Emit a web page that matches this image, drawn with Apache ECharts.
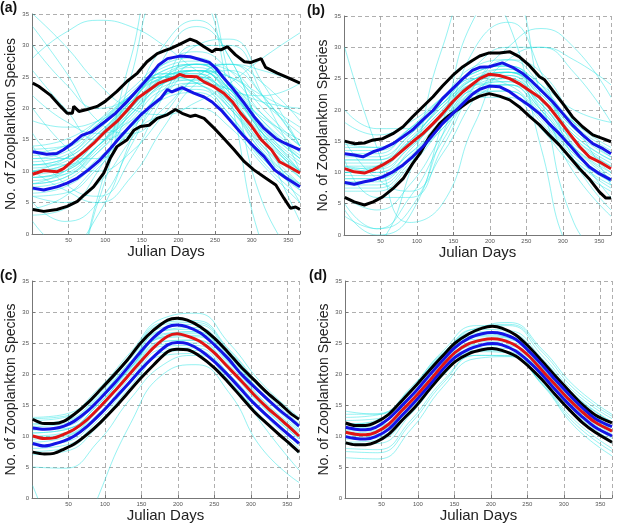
<!DOCTYPE html>
<html>
<head>
<meta charset="utf-8">
<script src="https://cdn.jsdelivr.net/npm/echarts@6/dist/echarts.min.js"></script>
<style>
  html, body { margin: 0; padding: 0; background: #fff; }
  #chart { width: 617px; height: 524px; }
</style>
</head>
<body>
<div id="chart"></div>
<script>
// days where the thin cyan curves were read
const cyanDays = [1, 45, 90, 135, 180, 225, 270, 315, 366]

// panel (a) - thick lines as [day, value]
const aUpperBlack = [[1, 24.0], [9, 23.5], [25, 22.1], [39, 20.3], [48, 19.2], [55, 19.2], [57, 20.3], [64, 19.5], [75, 19.8], [89, 20.3], [100, 21.1], [116, 22.7], [130, 24.3], [144, 25.6], [157, 27.4], [171, 28.7], [182, 29.2], [189, 29.5], [200, 30.1], [216, 31], [225, 30.6], [235, 29.8], [246, 29], [251, 29.4], [258, 29.3], [267, 29.8], [278, 28.5], [290, 27.4], [299, 27.3], [313, 27.9], [319, 26.5], [335, 25.6], [351, 24.8], [366, 24]]
const aUpperBlue = [[1, 13.1], [20, 12.7], [34, 12.8], [43, 13.4], [55, 14.4], [68, 15.7], [82, 16.3], [100, 17.9], [114, 19.2], [130, 21.1], [144, 22.9], [160, 25], [173, 26.9], [185, 27.9], [202, 28.3], [216, 28.2], [228, 27.8], [242, 27.3], [251, 26.4], [262, 24.8], [276, 22.9], [290, 20.8], [303, 18.7], [317, 16.8], [333, 15.2], [346, 14.4], [366, 13.4]]
const aRed = [[1, 9.5], [16, 10.1], [34, 9.9], [43, 10.4], [57, 11.8], [71, 13.1], [84, 14.4], [100, 16.3], [116, 17.9], [130, 19.7], [144, 21.6], [160, 22.9], [173, 24], [185, 24.5], [195, 24.9], [202, 25.4], [209, 25.1], [225, 25], [235, 24.2], [249, 23.4], [262, 22.4], [274, 21], [285, 19.2], [299, 17.3], [313, 15], [327, 13.4], [338, 11.5], [351, 10.7], [366, 9.7]]
const aLowerBlue = [[1, 7.3], [16, 7.0], [34, 7.5], [48, 8.1], [62, 8.9], [77, 10.2], [93, 11.8], [107, 13.6], [121, 15.5], [135, 17.3], [148, 18.9], [162, 20.3], [176, 21.6], [185, 23], [191, 22.6], [205, 23.3], [221, 22.4], [235, 21.8], [246, 21], [260, 19.5], [274, 17.6], [288, 15.7], [303, 13.9], [317, 12.3], [331, 10.2], [347, 8.9], [366, 7.5]]
const aLowerBlack = [[1, 3.9], [16, 3.6], [34, 3.9], [48, 4.4], [62, 5.2], [71, 6.2], [84, 7.5], [98, 9.7], [107, 12.1], [116, 13.9], [130, 15], [139, 16.5], [148, 17.1], [160, 17.3], [171, 18.4], [185, 19], [196, 19.8], [205, 19.2], [216, 18.7], [223, 18.9], [235, 18.4], [249, 16.8], [262, 15.2], [276, 13.4], [290, 11.5], [303, 10.2], [319, 8.9], [333, 7.8], [344, 5.7], [353, 4.1], [360, 4.3], [366, 3.9]]
const aCyan = [
  [9, 10, 14, 20, 25, 26, 22, 15, 9],
  [11, 12, 16, 21, 25, 25, 21, 16, 11],
  [8, 9, 13, 18, 23, 24, 21, 14, 8],
  [12, 13, 17, 22, 26, 27, 23, 17, 12],
  [10, 11, 15, 21, 26, 27, 23, 16, 10],
  [7, 8, 12, 17, 22, 23, 19, 12, 7],
  [13, 14, 18, 23, 27, 28, 24, 18, 13],
  [9, 10, 14, 19, 24, 26, 23, 17, 10],
  [10, 12, 17, 22, 25, 24, 20, 14, 9],
  [11, 11, 14, 19, 24, 26, 24, 18, 12],
  [8, 10, 15, 21, 25, 24, 19, 12, 8],
  [12, 12, 15, 20, 25, 27, 25, 19, 13],
  [9.5, 10.5, 15, 20.5, 24.5, 25.5, 21.5, 15.5, 9.5],
  [10.5, 11.5, 15.5, 21, 25.5, 25.5, 21, 15, 10],
  [8.5, 9.5, 14, 19.5, 24, 25, 22, 16, 9],
  [11.5, 12.5, 16.5, 21.5, 25, 26, 22.5, 16.5, 11.5],
  [7.5, 8.5, 13, 18.5, 23.5, 24.5, 20.5, 13.5, 7.5],
  [12.5, 13.5, 17.5, 22.5, 26.5, 27.5, 23.5, 17.5, 12.5],
  [10, 11, 15.5, 21.5, 25.5, 25, 20.5, 14.5, 9.5],
  [9, 9.5, 13.5, 19, 24.5, 26, 22.5, 16.5, 10],
  [11, 12, 16, 20.5, 24, 25, 22, 17, 12],
  [6.5, 7.5, 11.5, 17, 22, 23.5, 20, 13, 7],
  [13.5, 14, 17.5, 22, 25.5, 27, 24, 19, 14],
  [8, 9, 14, 20, 24.5, 24.5, 20, 13, 8],
  [10, 10.5, 14, 19.5, 25, 26.5, 23, 16, 10],
  [14, 15, 18, 22, 25, 26, 23, 18.5, 15],
  [6, 6.5, 10.5, 16.5, 21.5, 22.5, 18.5, 11.5, 6],
  [30, 24, 20, 22, 27, 29, 26, 20, 14],
  [33, 26, 18, 16, 20, 25, 27, 26, 24],
  [26, 20, 15, 17, 22, 26, 25, 21, 17],
  [20, 14, 10, 13, 19, 25, 27, 24, 18],
  [5, 2, 5, 14, 24, 30, 30, 22, 10],
  [2, -2, 3, 15, 28, 33, 28, 15, 2],
  [16, 12, 12, 17, 23, 27, 26, 21, 16],
  [3, 4, 10, 20, 30, 34, 28, 16, 5],
  [-3, -5, 5, 25, 38, 38, 25, 5, -5],
  [22, 18, 16, 18, 22, 24, 23, 21, 20],
  [35, 30, 24, 20, 19, 21, 24, 28, 32],
  [6, 5, 8, 15, 22, 27, 27, 22, 14],
  [14, 8, 6, 12, 22, 30, 31, 24, 14],
  [18, 17, 18, 21, 24, 26, 25, 22, 19],
  [-10, -8, 6, 28, 42, 40, 22, -2, -12],
  [28, 32, 34, 33, 30, 26, 23, 22, 24],
  [4, 6, 11, 16, 19, 20, 17, 11, 5],
  [10, 7, 5, 9, 17, 24, 26, 22, 14]
]

// panel (b)
const bUpperBlack = [[1, 15], [14, 14.6], [28, 14.7], [40, 15.2], [53, 15.4], [67, 16.2], [81, 17.3], [94, 18.9], [108, 20.5], [122, 22.1], [135, 23.8], [149, 25.5], [163, 26.9], [176, 27.9], [186, 28.6], [199, 29.1], [213, 29.1], [227, 29.3], [240, 28.5], [254, 27.1], [268, 25.3], [275, 24.8], [286, 23.1], [300, 21], [313, 18.9], [327, 17.3], [341, 16], [355, 15.4], [366, 14.9]]
const bUpperBlue = [[1, 13], [14, 12.8], [26, 12.5], [40, 13.3], [53, 13.8], [67, 14.6], [81, 15.7], [94, 16.8], [108, 18.4], [122, 19.9], [135, 21.8], [149, 23.4], [163, 25], [176, 26.3], [186, 26.8], [199, 26.9], [217, 27.5], [231, 26.8], [245, 25.8], [258, 24.5], [272, 22.9], [286, 21.3], [300, 19.4], [313, 17.6], [327, 16], [341, 14.6], [355, 13.8], [366, 13]]
const bRed = [[1, 10.6], [14, 10.1], [28, 9.9], [40, 10.4], [53, 11.2], [67, 12.2], [81, 13.6], [94, 14.9], [108, 16.2], [122, 17.8], [135, 19.4], [149, 21.3], [163, 22.9], [176, 24.1], [186, 25], [199, 25.7], [213, 25.5], [227, 25], [240, 24.2], [254, 23.1], [268, 22], [281, 20.5], [295, 18.4], [309, 16.2], [323, 14.1], [336, 12.5], [350, 11.7], [366, 10.6]]
const bLowerBlue = [[1, 8.4], [14, 8.1], [28, 8.5], [40, 8.8], [53, 9.3], [67, 10.1], [81, 11.2], [94, 12.5], [108, 14.1], [122, 16], [135, 17.8], [149, 19.4], [163, 21], [176, 22.5], [186, 23.3], [199, 23.8], [213, 23.7], [227, 22.9], [240, 21.8], [254, 20.7], [268, 19.4], [281, 17.8], [295, 16.2], [309, 14.4], [323, 12.5], [336, 10.9], [350, 9.8], [366, 8.8]]
const bLowerBlack = [[1, 6], [14, 5.3], [28, 4.8], [40, 5.3], [53, 6.1], [67, 7.4], [81, 9], [94, 11.4], [104, 13], [117, 15.7], [131, 17.8], [144, 19.1], [158, 20.2], [172, 21.4], [186, 22.2], [199, 22.6], [213, 22.2], [227, 21.6], [240, 20.5], [254, 19], [268, 17.6], [281, 16], [295, 14.4], [309, 12.5], [323, 10.6], [336, 9], [350, 6.9], [359, 5.9], [366, 5.9]]
const bCyan = [
  [10, 10, 14, 19, 24, 25, 21, 15, 10],
  [12, 12, 16, 21, 25, 26, 22, 16, 12],
  [9, 9, 12, 17, 22, 24, 21, 14, 9],
  [13, 13, 17, 22, 26, 27, 23, 17, 13],
  [11, 11, 15, 20, 25, 26, 21, 15, 11],
  [8, 8, 12, 18, 23, 23, 18, 12, 8],
  [14, 14, 17, 22, 27, 28, 24, 18, 14],
  [10, 11, 15, 21, 25, 24, 19, 13, 9],
  [11, 10, 13, 18, 24, 26, 23, 16, 12],
  [7, 7, 11, 17, 22, 22, 17, 11, 7],
  [10.5, 11, 14.5, 19.5, 24.5, 25.5, 20.5, 14.5, 10.5],
  [11.5, 11.5, 15.5, 20.5, 25, 25.5, 21.5, 15.5, 11.5],
  [9.5, 9.5, 13, 18.5, 23.5, 24.5, 20, 14, 9.5],
  [12.5, 12.5, 16, 21.5, 25.5, 26.5, 22.5, 16.5, 12.5],
  [8.5, 8.5, 12.5, 18, 23, 24, 19.5, 13, 8.5],
  [13.5, 13.5, 16.5, 21.5, 26, 27, 23, 17.5, 13.5],
  [10, 10.5, 15, 20.5, 24, 24.5, 20, 14, 10],
  [11, 10.5, 14, 19, 24.5, 26, 22, 15.5, 11],
  [9, 9, 13.5, 19.5, 24, 24, 19, 12.5, 8.5],
  [12, 12, 15, 20, 24.5, 26, 22.5, 17, 12.5],
  [7.5, 7.5, 11.5, 17.5, 22.5, 23, 18.5, 12, 7.5],
  [14.5, 14, 17, 21, 25, 26.5, 23.5, 18, 15],
  [30, 14, 2, 5, 18, 26, 24, 14, 6],
  [5, 1, 4, 16, 30, 34, 26, 12, 4],
  [4, 0, 3, 18, 35, 38, 22, 2, -5],
  [18, 16, 18, 22, 26, 27, 24, 20, 18],
  [6, 4, 8, 16, 24, 28, 26, 18, 8],
  [15, 9, 7, 13, 22, 28, 30, 26, 18],
  [-4, -2, 10, 30, 40, 34, 14, -4, -8],
  [20, 17, 17, 21, 27, 30, 30, 28, 24],
  [12, 6, 6, 14, 24, 30, 33, 30, 22],
  [3, 1, 6, 15, 23, 25, 20, 10, 3]
]

// panel (c) - thick lines share cDays
const cDays = [1, 17, 30, 44, 58, 76, 94, 113, 131, 149, 167, 186, 199, 213, 231, 250, 268, 286, 304, 323, 341, 354, 366]
const cUpperBlack = [12.7, 12, 12, 12.4, 13.5, 15.3, 17.5, 19.9, 22.3, 25, 27.1, 28.7, 29, 28.7, 27.6, 25.8, 23.6, 21.2, 19.1, 16.9, 15.1, 13.7, 12.7]
const cUpperBlue = [11.3, 11.1, 11.2, 11.6, 12.4, 14, 16.1, 18.5, 21, 23.6, 25.9, 27.6, 27.9, 27.6, 26.6, 24.7, 22.6, 20.1, 18, 15.9, 14, 12.8, 11.6]
const cRed = [10, 9.6, 9.7, 10.3, 11.1, 12.7, 14.8, 17.2, 19.6, 22, 24.3, 26.1, 26.5, 26.1, 25.2, 23.4, 21.2, 19, 16.7, 14.5, 12.7, 11.3, 10]
const cLowerBlue = [8.8, 8.4, 8.7, 9.2, 10, 11.6, 13.6, 16, 18.3, 20.7, 22.8, 24.7, 25.1, 24.9, 23.8, 22, 19.9, 17.6, 15.3, 13.2, 11.3, 10, 8.8]
const cLowerBlack = [7.4, 7.1, 7.2, 7.9, 8.7, 10.3, 12.2, 14.5, 16.9, 19.3, 21.5, 23.6, 24, 23.9, 22.8, 21, 18.8, 16.4, 14, 11.9, 10, 8.7, 7.4]
const cCyan = [
  [10, 10.5, 14.5, 20.5, 25.8, 26, 21.5, 15.5, 10],
  [11.5, 12, 16, 22, 27, 27.2, 22.8, 17, 11.5],
  [8.5, 9, 13, 19, 24.5, 24.6, 20, 14.3, 8.5],
  [12.5, 13, 17, 23, 28.3, 28.6, 24, 18, 12.5],
  [9, 9.8, 13.5, 19.5, 24.8, 25, 20.8, 15, 9.5],
  [11, 11.5, 15.5, 21, 26.5, 26.8, 22, 16.5, 11],
  [7.5, 8, 12, 18, 23.5, 23.8, 19, 13, 7.5],
  [13, 13.5, 17.5, 23.5, 29, 29.8, 25, 18.5, 13],
  [10.5, 11, 15, 21, 26, 26.5, 22.2, 16, 10.8],
  [12, 12.5, 16.5, 22.5, 27.5, 28, 23.5, 17.5, 12],
  [10.5, 11, 15, 20.8, 26, 26.2, 21.8, 15.8, 10.5],
  [9.5, 10, 14, 20, 25.2, 25.5, 21, 15.2, 9.8],
  [11.8, 12.3, 16.2, 22, 27, 27.5, 23, 17, 11.8],
  [8, 8.5, 12.5, 18.5, 24, 24.2, 19.5, 13.8, 8],
  [12.8, 13.2, 17.2, 23, 28, 28.3, 23.8, 17.8, 12.8],
  [9.8, 10.2, 14.2, 20.2, 25.3, 25.4, 20.6, 14.8, 9.6],
  [11, 11.2, 15, 21, 26.3, 26.8, 22.5, 16.8, 11.3],
  [7, 7.5, 11.5, 17.5, 23, 23.3, 18.8, 12.8, 7.2],
  [5, 4.8, 9, 16, 21.5, 23, 20, 12, 4.5],
  [-25, -14, 0, 12, 20, 21.5, 17, 8, 2.5],
  [2, -10, -20, -25, -25, -25, -20, -15, -10]
]

// panel (d)
const dDays = [1, 14, 28, 42, 60, 78, 97, 115, 133, 151, 170, 188, 202, 215, 234, 252, 270, 288, 307, 325, 343, 366]
const dUpperBlack = [12.1, 11.7, 11.7, 12.2, 13.5, 15.7, 18.1, 20.5, 22.8, 25, 26.5, 27.4, 27.7, 27.4, 26.3, 24.4, 22.1, 19.7, 17.3, 15.1, 13.4, 12.1]
const dUpperBlue = [11.4, 11.1, 11, 11.4, 12.8, 14.9, 17.2, 19.7, 22.1, 24.3, 25.8, 26.5, 26.7, 26.5, 25.6, 23.7, 21.5, 19.1, 16.7, 14.6, 12.8, 11.5]
const dRed = [10.6, 10.3, 10.2, 10.6, 11.9, 14.1, 16.4, 18.8, 21.3, 23.5, 24.9, 25.5, 25.7, 25.5, 24.6, 22.9, 20.6, 18.3, 15.9, 13.9, 12.2, 10.8]
const dLowerBlue = [9.9, 9.6, 9.5, 9.9, 11.1, 13.3, 15.7, 18.1, 20.6, 22.7, 24, 24.7, 24.9, 24.7, 23.7, 22, 19.9, 17.5, 15.1, 13.1, 11.4, 10]
const dLowerBlack = [8.9, 8.6, 8.6, 9, 10.3, 12.5, 14.8, 17.4, 19.9, 22, 23.3, 23.9, 24.1, 23.8, 22.9, 21.2, 19.1, 16.7, 14.3, 12.2, 10.6, 9]
const dCyan = [
  [10.5, 10.8, 15.5, 21.5, 25.2, 25.1, 20.6, 15, 10.7],
  [12, 12.2, 17, 23, 26.8, 26.6, 22, 16.4, 12.2],
  [9, 9.3, 14, 20, 23.8, 23.6, 19, 13.6, 9.2],
  [13, 13.4, 17.8, 23.8, 27.8, 27.8, 23, 17, 12.8],
  [8, 7.8, 12.5, 19, 23, 23, 18.5, 12.5, 8],
  [11, 11.4, 16.2, 22, 26, 25.8, 21.2, 15.6, 11],
  [14, 13.5, 17, 22.8, 27, 28.3, 24, 18, 13.5],
  [6.5, 6.3, 11, 18, 22.5, 22.8, 18.3, 11.5, 6.8],
  [9.8, 10, 14.8, 20.8, 24.6, 24.5, 20, 14.4, 10],
  [11.8, 12.6, 17.5, 23.5, 26.5, 25.8, 21, 15.4, 11.5],
  [10, 10.3, 15, 21, 24.8, 24.7, 20.2, 14.6, 10.3],
  [11.3, 11.6, 16.4, 22.4, 26.2, 26, 21.4, 15.8, 11.4],
  [9.5, 9.7, 14.4, 20.4, 24.2, 24.1, 19.6, 14, 9.6],
  [12.5, 12.8, 17.4, 23.3, 27.2, 27, 22.5, 16.6, 12.3],
  [10.8, 11, 15.8, 21.8, 25.6, 25.5, 21, 15.3, 11],
  [8.7, 8.8, 13.5, 19.8, 23.6, 23.4, 18.8, 13.2, 8.8],
  [13.5, 13.6, 17.6, 23.4, 27.4, 28, 23.6, 17.5, 13.2],
  [7.5, 7.3, 12, 18.6, 23, 22.9, 18.4, 12, 7.5]
]

const yTicks = [0, 5, 10, 15, 20, 25, 30, 35]
const xTicks = [50, 100, 150, 200, 250, 300, 350]

const zip = (days, vals) => days.map((d, i) => [d, vals[i]])

const panels = [
  { label: '(a)', cyan: aCyan, black: [aUpperBlack, aLowerBlack], blue: [aUpperBlue, aLowerBlue], red: aRed, smooth: false },
  { label: '(b)', cyan: bCyan, black: [bUpperBlack, bLowerBlack], blue: [bUpperBlue, bLowerBlue], red: bRed, smooth: false },
  { label: '(c)', cyan: cCyan, black: [zip(cDays, cUpperBlack), zip(cDays, cLowerBlack)], blue: [zip(cDays, cUpperBlue), zip(cDays, cLowerBlue)], red: zip(cDays, cRed), smooth: 0.3 },
  { label: '(d)', cyan: dCyan, black: [zip(dDays, dUpperBlack), zip(dDays, dLowerBlack)], blue: [zip(dDays, dUpperBlue), zip(dDays, dLowerBlue)], red: zip(dDays, dRed), smooth: 0.3 }
]

const grids = [
  { left: 32, top: 14, width: 268, height: 220 },
  { left: 344, top: 16, width: 267, height: 219 },
  { left: 32, top: 281, width: 267, height: 218 },
  { left: 345, top: 281, width: 267, height: 218 }
]
const labelPos = [[0, 1], [307, 4], [0, 269], [309, 269]]

const font = 'Liberation Sans'
const gridLine = { show: true, lineStyle: { color: '#9a9a9a', type: [4, 3], width: 0.8 } }

const xAxes = grids.map((g, i) => ({
  type: 'value',
  gridIndex: i,
  min: 0,
  max: 366,
  interval: 50,
  name: 'Julian Days',
  nameLocation: 'middle',
  nameGap: 10,
  nameTextStyle: { fontFamily: font, fontSize: 15, color: '#222' },
  axisLine: { show: true, lineStyle: { color: '#777', width: 1 } },
  axisTick: { show: true, inside: true, length: 3, lineStyle: { color: '#777' } },
  axisLabel: {
    fontFamily: font, fontSize: 6, color: '#555', margin: 3,
    formatter: v => (xTicks.indexOf(v) >= 0 ? String(v) : '')
  },
  splitLine: gridLine
}))

const yAxes = grids.map((g, i) => ({
  type: 'value',
  gridIndex: i,
  min: 0,
  max: 35,
  interval: 5,
  name: 'No. of Zooplankton Species',
  nameLocation: 'middle',
  nameGap: 12,
  nameTextStyle: { fontFamily: font, fontSize: 14, color: '#222' },
  axisLine: { show: true, lineStyle: { color: '#777', width: 1 } },
  axisTick: { show: true, inside: true, length: 3, lineStyle: { color: '#777' } },
  axisLabel: {
    fontFamily: font, fontSize: 6, color: '#555', margin: 3,
    formatter: v => (yTicks.indexOf(v) >= 0 ? String(v) : '')
  },
  splitLine: gridLine
}))

const series = []
panels.forEach((p, i) => {
  p.cyan.forEach(vals => {
    series.push({
      type: 'line', xAxisIndex: i, yAxisIndex: i,
      data: zip(cyanDays, vals), smooth: 0.5, symbol: 'none', silent: true,
      lineStyle: { color: '#2ee6e6', width: 1, opacity: 0.5 }
    })
  })
  const thick = (data, color) => ({
    type: 'line', xAxisIndex: i, yAxisIndex: i,
    data, smooth: p.smooth, symbol: 'none', silent: true,
    lineStyle: { color, width: 3 }
  })
  p.black.forEach(d => series.push(thick(d, '#000000')))
  p.blue.forEach(d => series.push(thick(d, '#1414e6')))
  series.push(thick(p.red, '#e01414'))
})

const chart = echarts.init(document.getElementById('chart'), null, { renderer: 'canvas' })
chart.setOption({
  backgroundColor: '#ffffff',
  animation: false,
  title: panels.map((p, i) => ({
    text: p.label,
    left: labelPos[i][0],
    top: labelPos[i][1],
    padding: 0,
    textStyle: { fontFamily: font, fontSize: 14, fontWeight: 'bold', color: '#111' }
  })),
  grid: grids,
  xAxis: xAxes,
  yAxis: yAxes,
  series
})
</script>
</body>
</html>
